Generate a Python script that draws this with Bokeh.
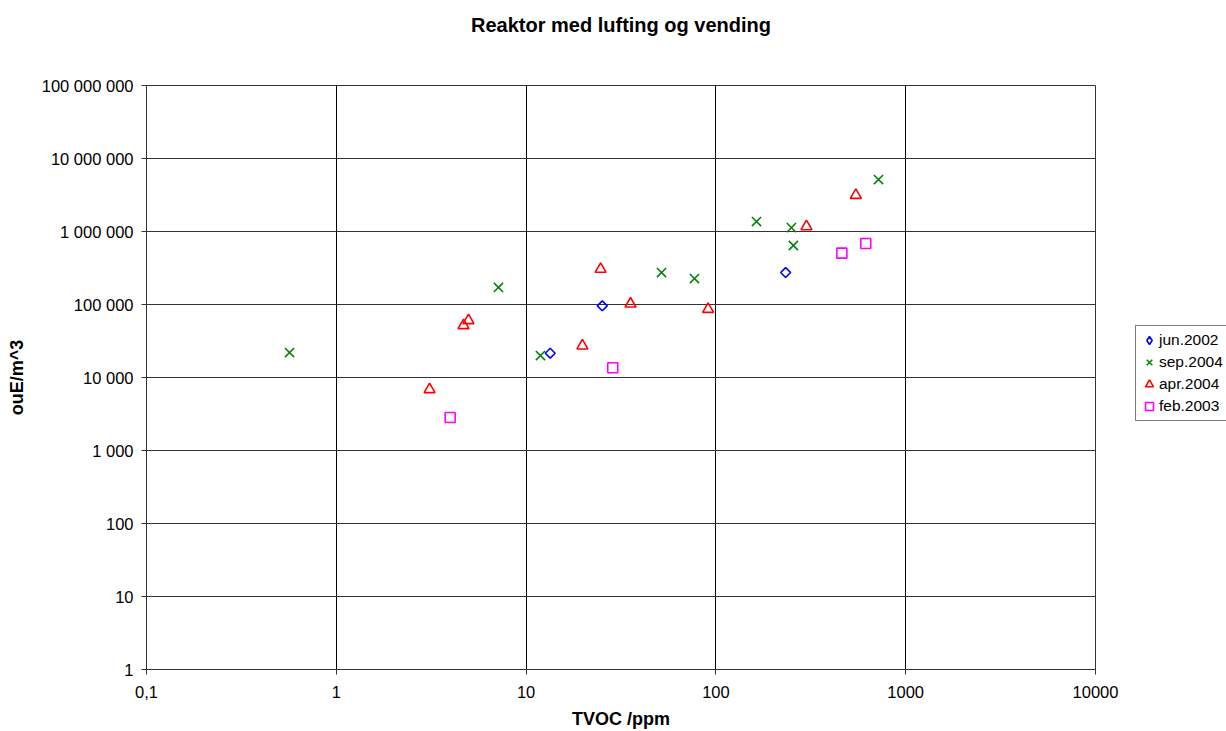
import math
from bokeh.plotting import figure
from bokeh.layouts import row
from bokeh.models import FixedTicker, Legend, LegendItem, Title
from bokeh.embed import file_html
from bokeh.resources import INLINE

# Data
jun2002_x = [13.4, 25.2, 233]
jun2002_y = [21500, 95900, 274000]

sep2004_x = [0.567, 7.15, 11.9, 51.7, 77.1, 163.6, 250, 256, 719]
sep2004_y = [22000, 171000, 20000, 274000, 227000, 1370000, 1130000, 643000, 5150000]

apr2004_x = [3.10, 4.68, 4.97, 19.8, 24.7, 35.5, 91.0, 300, 546]
apr2004_y = [6850, 51600, 60400, 27200, 305000, 102000, 86300, 1170000, 3140000]

feb2003_x = [3.98, 28.6, 461, 616]
feb2003_y = [2830, 13600, 505000, 685000]

series_labels = ["jun.2002", "sep.2004", "apr.2004", "feb.2003"]

x_ticks = [0.1, 1, 10, 100, 1000, 10000]
x_tick_labels = ["0,1", "1", "10", "100", "1000", "10000"]
y_ticks = [1, 10, 100, 1000, 10000, 100000, 1000000, 10000000, 100000000]
y_tick_labels = ["1", "10", "100", "1 000", "10 000", "100 000", "1 000 000", "10 000 000", "100 000 000"]

FONT = "Liberation Sans"

styles = [
    dict(marker="square", angle=math.pi / 4, size=7, fill_color=None, line_color="#0000FF", line_width=1.6),
    dict(marker="x", size=13, line_color="#008000", line_width=1.5),
    dict(marker="triangle", size=11, fill_color=None, line_color="#FF0000", line_width=1.6),
    dict(marker="square", size=10, fill_color=None, line_color="#FF00FF", line_width=1.6),
]
legend_styles = [
    dict(marker="diamond", size=9, fill_color=None, line_color="#0000FF", line_width=1.6),
    dict(marker="x", size=13, line_color="#008000", line_width=1.5),
    dict(marker="triangle", size=11, fill_color=None, line_color="#FF0000", line_width=1.6),
    dict(marker="square", size=10, fill_color=None, line_color="#FF00FF", line_width=1.6),
]

p = figure(width=1131, height=731, x_axis_type="log", y_axis_type="log",
           x_range=(0.1, 10000), y_range=(1, 100000000),
           output_backend="svg", toolbar_location=None,
           min_border_left=146, min_border_right=36, min_border_top=85, min_border_bottom=62)
p.title.text = ""

# spacer (nearest the frame) and the real title above it
p.add_layout(Title(text=" ", text_font_size="1px", standoff=47), "above")
p.add_layout(Title(text="Reaktor med lufting og vending", align="center",
                   text_font=FONT, text_font_size="20px", text_font_style="bold",
                   text_color="black", offset=0, standoff=0), "above")

p.xaxis.ticker = FixedTicker(ticks=x_ticks)
p.yaxis.ticker = FixedTicker(ticks=y_ticks)
p.xaxis.major_label_overrides = {t: l for t, l in zip(x_ticks, x_tick_labels)}
p.yaxis.major_label_overrides = {t: l for t, l in zip(y_ticks, y_tick_labels)}

for ax in (p.xaxis[0], p.yaxis[0]):
    ax.major_label_text_font = FONT
    ax.major_label_text_font_size = "16.5px"
    ax.major_label_text_color = "black"
    ax.axis_label_text_font = FONT
    ax.axis_label_text_font_size = "18px"
    ax.axis_label_text_font_style = "bold"
    ax.axis_label_text_color = "black"
    ax.minor_tick_line_color = None
    ax.major_tick_out = 5
    ax.major_tick_in = 0
    ax.axis_line_color = "#333333"
    ax.major_tick_line_color = "#333333"

p.xaxis.axis_label = "TVOC /ppm"
p.yaxis.axis_label = "ouE/m^3"
p.xaxis.major_label_standoff = 11
p.yaxis.major_label_standoff = 8
p.xaxis.axis_label_standoff = 8
p.yaxis.axis_label_standoff = 12

p.xgrid.grid_line_color = "black"
p.ygrid.grid_line_color = "#333333"
p.outline_line_color = "#333333"
p.background_fill_color = "white"
p.border_fill_color = "white"

series = [(jun2002_x, jun2002_y), (sep2004_x, sep2004_y), (apr2004_x, apr2004_y), (feb2003_x, feb2003_y)]
for (xs, ys), st in zip(series, styles):
    p.scatter(xs, ys, **st)

# legend panel to the right of the chart (its renderers hold one off-view point each)
p2 = figure(width=95, height=731, x_range=(0, 1), y_range=(0, 1),
            output_backend="svg", toolbar_location=None,
            x_axis_location=None, y_axis_location=None,
            min_border_left=0, min_border_right=0, min_border_top=0, min_border_bottom=0)
p2.grid.visible = False
p2.outline_line_color = None
p2.background_fill_color = "white"
p2.border_fill_color = "white"

items = []
for lab, st in zip(series_labels, legend_styles):
    r = p2.scatter([5], [5], **st)
    items.append(LegendItem(label=lab, renderers=[r]))

legend = Legend(items=items, location=(4, 248), label_text_font=FONT, label_text_font_size="15.5px",
                label_text_color="black", glyph_width=20, glyph_height=22,
                label_standoff=0, spacing=0, padding=3, margin=0, label_height=22,
                border_line_color="black", border_line_width=1,
                background_fill_color="white", background_fill_alpha=1)
p2.add_layout(legend, "center")

layout = row(p, p2, spacing=0)
open("out.html", "w").write(file_html(layout, INLINE))
